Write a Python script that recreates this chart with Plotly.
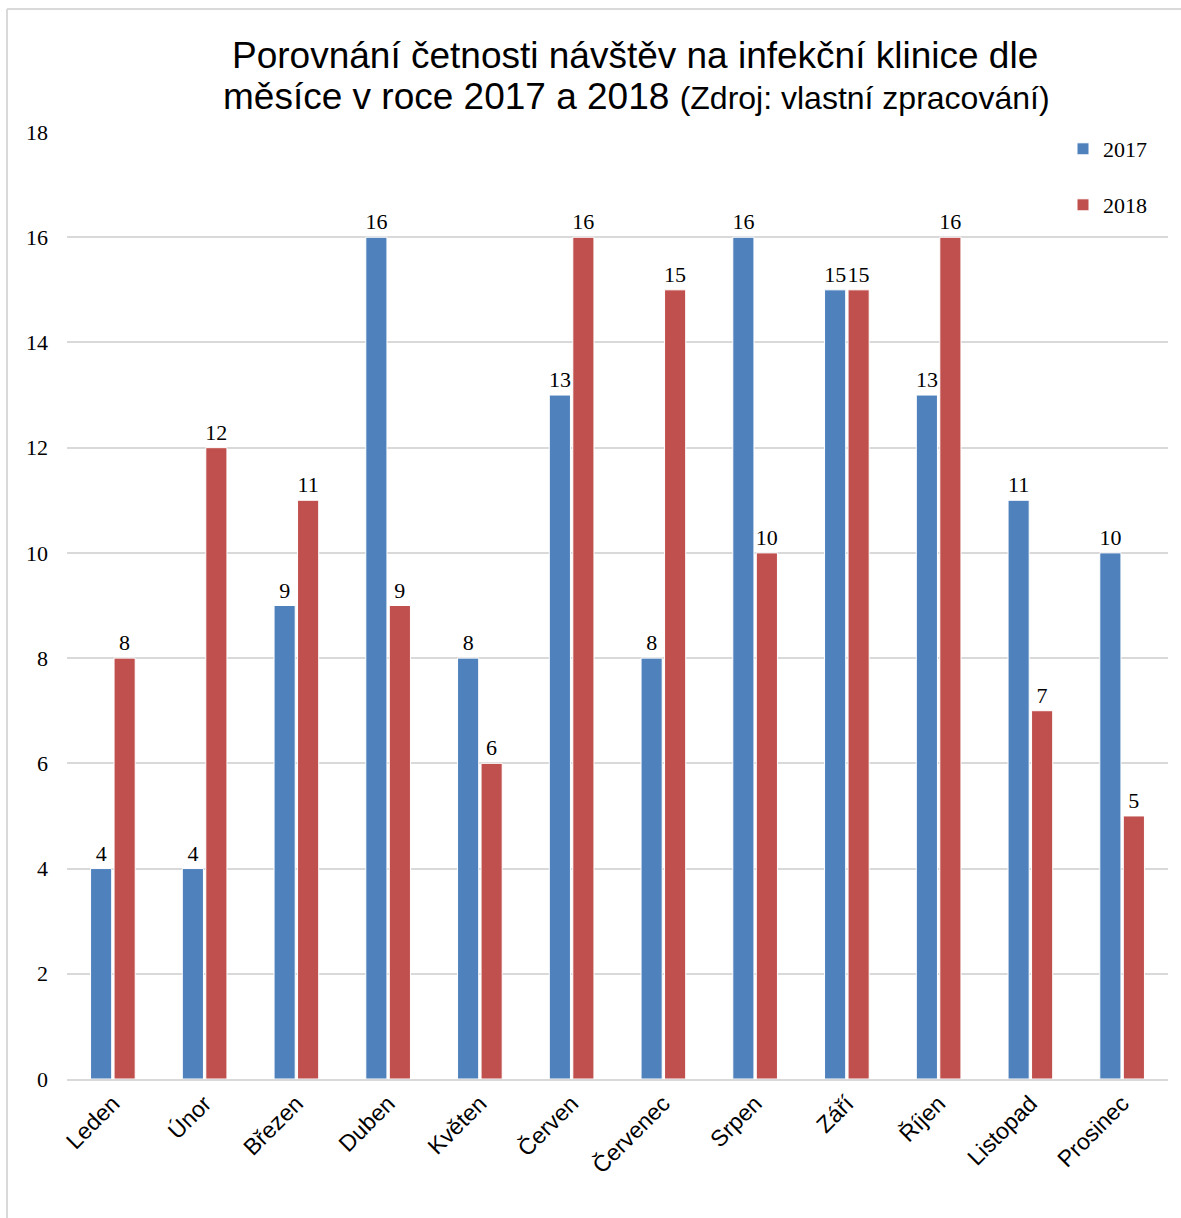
import plotly.graph_objects as go

months = ["Leden", "Únor", "Březen", "Duben", "Květen", "Červen", "Červenec",
          "Srpen", "Září", "Říjen", "Listopad", "Prosinec"]
v2017 = [4, 4, 9, 16, 8, 13, 8, 16, 15, 13, 11, 10]
v2018 = [8, 12, 11, 9, 6, 16, 15, 10, 15, 16, 7, 5]
yticks = [0, 2, 4, 6, 8, 10, 12, 14, 16, 18]

W, H = 1181, 1218
L, R, T, B = 67, 1168, 132, 1079
pw, ph = R - L, B - T

def px(x):
    return (x - L) / pw

def py(y):
    return (B - y) / ph

serif = "Liberation Serif, Times New Roman, serif"
sans = "Liberation Sans, Arial, sans-serif"

fig = go.Figure()
fig.add_trace(go.Bar(
    name="2017", x=months, y=v2017, marker_color="#4F81BD",
    marker_line=dict(color="white", width=1),
    text=v2017, textposition="outside", cliponaxis=False, constraintext="none",
    textfont=dict(family=serif, size=22, color="#000000"),
    legend="legend",
))
fig.add_trace(go.Bar(
    name="2018", x=months, y=v2018, marker_color="#C0504D",
    marker_line=dict(color="white", width=1),
    text=v2018, textposition="outside", cliponaxis=False, constraintext="none",
    textfont=dict(family=serif, size=22, color="#000000"),
    legend="legend2",
))

fig.update_layout(
    width=W, height=H,
    margin=dict(l=L, r=W - R, t=T, b=H - B, autoexpand=False),
    paper_bgcolor="white", plot_bgcolor="white",
    barmode="group", bargap=0.488, bargroupgap=0.1,
    showlegend=True,
    legend=dict(x=px(1063), y=py(149), xanchor="left", yanchor="middle",
                font=dict(family=serif, size=22, color="#000"),
                bgcolor="rgba(0,0,0,0)", itemwidth=30),
    legend2=dict(x=px(1063), y=py(205), xanchor="left", yanchor="middle",
                 font=dict(family=serif, size=22, color="#000"),
                 bgcolor="rgba(0,0,0,0)", itemwidth=30),
    xaxis=dict(tickangle=-45, tickfont=dict(family=sans, size=23, color="#000"),
               showline=True, linecolor="#D9D9D9", linewidth=2,
               ticks="", showgrid=False),
    yaxis=dict(range=[0, 18], tickvals=yticks, ticktext=[str(t) for t in yticks],
               tickfont=dict(family=serif, size=22, color="#000"),
               showgrid=True, gridcolor="#D9D9D9", gridwidth=1.5,
               zeroline=False, showline=False, ticks="", ticklabelstandoff=18),
    annotations=[
        dict(text="Porovnání četnosti návštěv na infekční klinice dle",
             x=px(635), y=py(55), xref="paper", yref="paper",
             xanchor="center", yanchor="middle", showarrow=False,
             font=dict(family=sans, size=37, color="#000")),
        dict(text="měsíce v roce 2017 a 2018 "
                  "<span style='font-size:32px'>(Zdroj: vlastní zpracování)</span>",
             x=px(636), y=py(97), xref="paper", yref="paper",
             xanchor="center", yanchor="middle", showarrow=False,
             font=dict(family=sans, size=37, color="#000")),
    ],
    shapes=[
        dict(type="line", xref="paper", yref="paper",
             x0=px(7), x1=px(7), y0=py(9), y1=py(1230),
             line=dict(color="#D9D9D9", width=2)),
        dict(type="line", xref="paper", yref="paper",
             x0=px(7), x1=px(1190), y0=py(9), y1=py(9),
             line=dict(color="#D9D9D9", width=2)),
    ],
)

fig.write_html("out.html")
